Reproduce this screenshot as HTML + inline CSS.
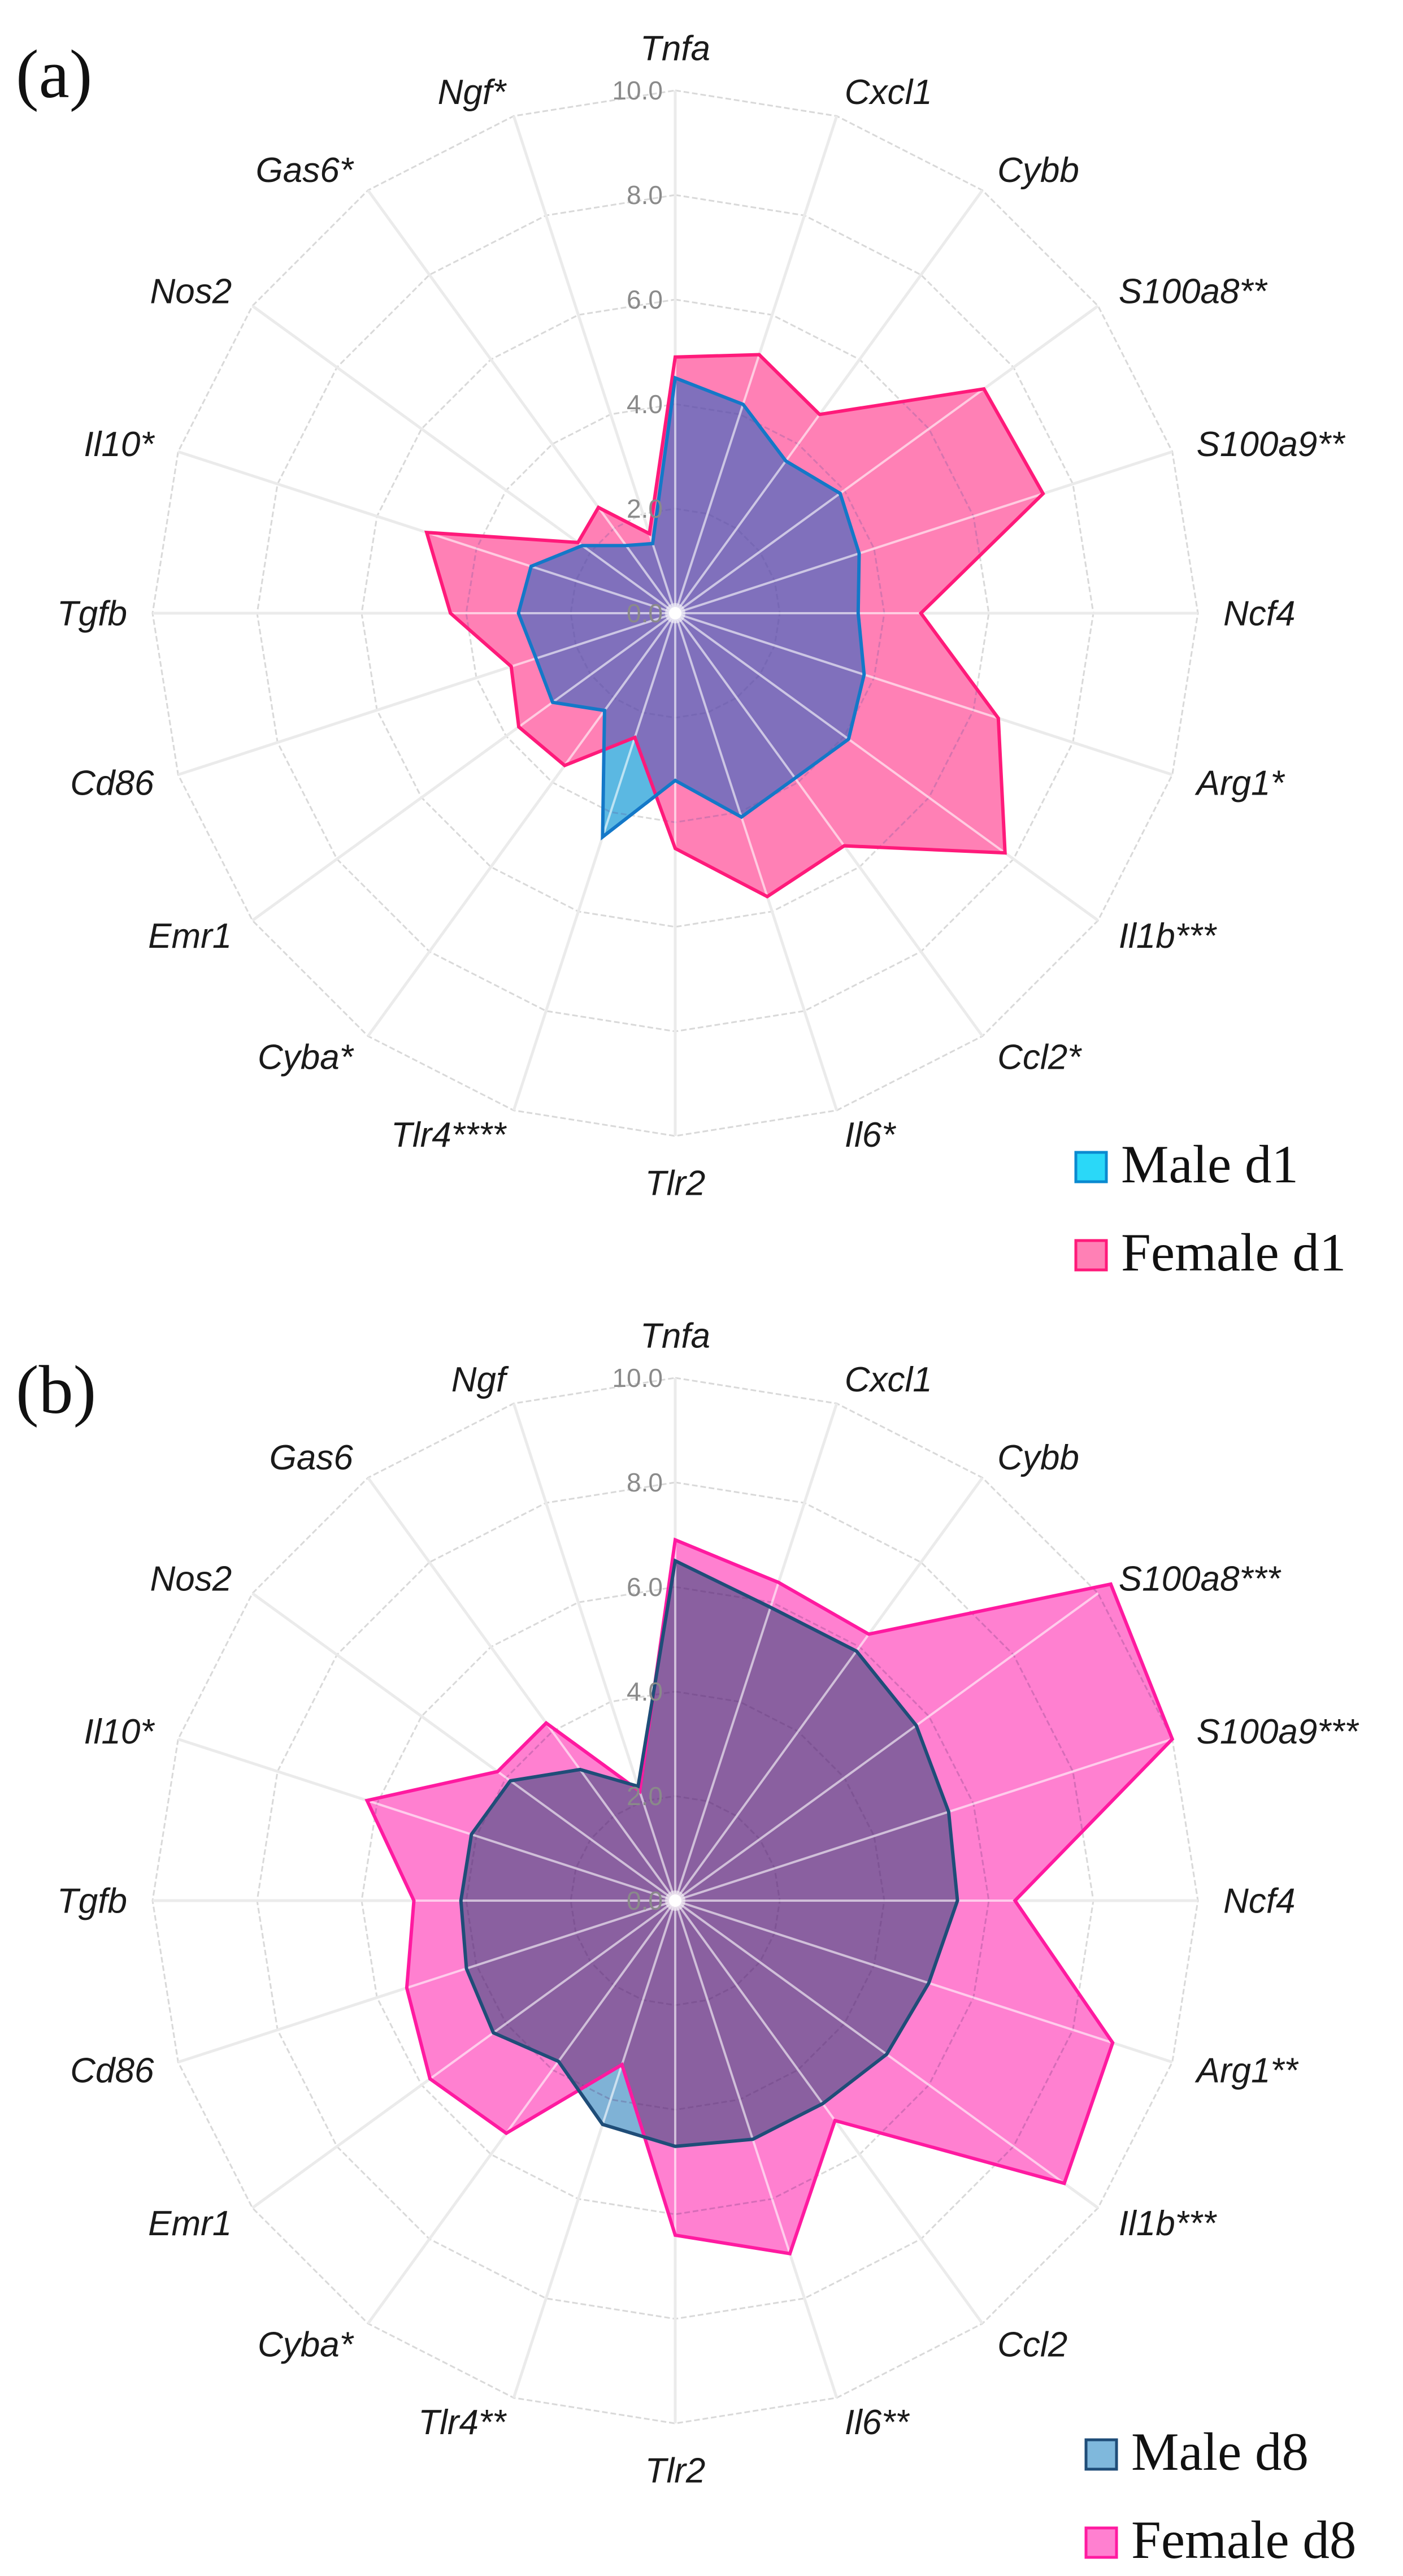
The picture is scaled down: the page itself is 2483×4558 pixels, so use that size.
<!DOCTYPE html>
<html><head><meta charset="utf-8">
<style>
html,body{margin:0;padding:0;background:#fff;}
svg{display:block;}
.lbl{font-family:"Liberation Sans",sans-serif;font-style:italic;font-size:62px;fill:#1a1a1a;}
.tick{font-family:"Liberation Sans",sans-serif;font-size:46px;fill:#8a8a8a;}
.leg{font-family:"Liberation Serif",serif;font-size:95px;fill:#111;}
.pan{font-family:"Liberation Serif",serif;font-size:122px;fill:#111;}
</style></head>
<body>
<svg id="s" width="2483" height="4558" viewBox="0 0 2483 4558" xmlns="http://www.w3.org/2000/svg">
<rect width="2483" height="4558" fill="#fff"/>
<text class="pan" x="28" y="172">(a)</text>
<text class="pan" x="28" y="2500">(b)</text>

<g id="A" transform="translate(1195,1085)"></g>
<g id="B" transform="translate(1195,3363)"></g>

<g transform="translate(1195,1085)">
<text class="lbl" x="0" y="-1000" dy=".35em" text-anchor="middle">Tnfa</text>
<text class="lbl" transform="rotate(18) translate(0,-970) rotate(-18)" dy=".35em" text-anchor="start">Cxcl1</text>
<text class="lbl" transform="rotate(36) translate(0,-970) rotate(-36)" dy=".35em" text-anchor="start">Cybb</text>
<text class="lbl" transform="rotate(54) translate(0,-970) rotate(-54)" dy=".35em" text-anchor="start">S100a8**</text>
<text class="lbl" transform="rotate(72) translate(0,-970) rotate(-72)" dy=".35em" text-anchor="start">S100a9**</text>
<text class="lbl" transform="rotate(90) translate(0,-970) rotate(-90)" dy=".35em" text-anchor="start">Ncf4</text>
<text class="lbl" transform="rotate(108) translate(0,-970) rotate(-108)" dy=".35em" text-anchor="start">Arg1*</text>
<text class="lbl" transform="rotate(126) translate(0,-970) rotate(-126)" dy=".35em" text-anchor="start">Il1b***</text>
<text class="lbl" transform="rotate(144) translate(0,-970) rotate(-144)" dy=".35em" text-anchor="start">Ccl2*</text>
<text class="lbl" transform="rotate(162) translate(0,-970) rotate(-162)" dy=".35em" text-anchor="start">Il6*</text>
<text class="lbl" x="0" y="1008" dy=".35em" text-anchor="middle">Tlr2</text>
<text class="lbl" transform="rotate(198) translate(0,-970) rotate(-198)" dy=".35em" text-anchor="end">Tlr4****</text>
<text class="lbl" transform="rotate(216) translate(0,-970) rotate(-216)" dy=".35em" text-anchor="end">Cyba*</text>
<text class="lbl" transform="rotate(234) translate(0,-970) rotate(-234)" dy=".35em" text-anchor="end">Emr1</text>
<text class="lbl" transform="rotate(252) translate(0,-970) rotate(-252)" dy=".35em" text-anchor="end">Cd86</text>
<text class="lbl" transform="rotate(270) translate(0,-970) rotate(-270)" dy=".35em" text-anchor="end">Tgfb</text>
<text class="lbl" transform="rotate(288) translate(0,-970) rotate(-288)" dy=".35em" text-anchor="end">Il10*</text>
<text class="lbl" transform="rotate(306) translate(0,-970) rotate(-306)" dy=".35em" text-anchor="end">Nos2</text>
<text class="lbl" transform="rotate(324) translate(0,-970) rotate(-324)" dy=".35em" text-anchor="end">Gas6*</text>
<text class="lbl" transform="rotate(342) translate(0,-970) rotate(-342)" dy=".35em" text-anchor="end">Ngf*</text>
<text class="tick" x="-22" y="0" dy=".35em" text-anchor="end">0.0</text>
<text class="tick" x="-22" y="-185" dy=".35em" text-anchor="end">2.0</text>
<text class="tick" x="-22" y="-370" dy=".35em" text-anchor="end">4.0</text>
<text class="tick" x="-22" y="-555" dy=".35em" text-anchor="end">6.0</text>
<text class="tick" x="-22" y="-740" dy=".35em" text-anchor="end">8.0</text>
<text class="tick" x="-22" y="-925" dy=".35em" text-anchor="end">10.0</text>
</g>

<g transform="translate(1195,3363)">
<text class="lbl" x="0" y="-1000" dy=".35em" text-anchor="middle">Tnfa</text>
<text class="lbl" transform="rotate(18) translate(0,-970) rotate(-18)" dy=".35em" text-anchor="start">Cxcl1</text>
<text class="lbl" transform="rotate(36) translate(0,-970) rotate(-36)" dy=".35em" text-anchor="start">Cybb</text>
<text class="lbl" transform="rotate(54) translate(0,-970) rotate(-54)" dy=".35em" text-anchor="start">S100a8***</text>
<text class="lbl" transform="rotate(72) translate(0,-970) rotate(-72)" dy=".35em" text-anchor="start">S100a9***</text>
<text class="lbl" transform="rotate(90) translate(0,-970) rotate(-90)" dy=".35em" text-anchor="start">Ncf4</text>
<text class="lbl" transform="rotate(108) translate(0,-970) rotate(-108)" dy=".35em" text-anchor="start">Arg1**</text>
<text class="lbl" transform="rotate(126) translate(0,-970) rotate(-126)" dy=".35em" text-anchor="start">Il1b***</text>
<text class="lbl" transform="rotate(144) translate(0,-970) rotate(-144)" dy=".35em" text-anchor="start">Ccl2</text>
<text class="lbl" transform="rotate(162) translate(0,-970) rotate(-162)" dy=".35em" text-anchor="start">Il6**</text>
<text class="lbl" x="0" y="1008" dy=".35em" text-anchor="middle">Tlr2</text>
<text class="lbl" transform="rotate(198) translate(0,-970) rotate(-198)" dy=".35em" text-anchor="end">Tlr4**</text>
<text class="lbl" transform="rotate(216) translate(0,-970) rotate(-216)" dy=".35em" text-anchor="end">Cyba*</text>
<text class="lbl" transform="rotate(234) translate(0,-970) rotate(-234)" dy=".35em" text-anchor="end">Emr1</text>
<text class="lbl" transform="rotate(252) translate(0,-970) rotate(-252)" dy=".35em" text-anchor="end">Cd86</text>
<text class="lbl" transform="rotate(270) translate(0,-970) rotate(-270)" dy=".35em" text-anchor="end">Tgfb</text>
<text class="lbl" transform="rotate(288) translate(0,-970) rotate(-288)" dy=".35em" text-anchor="end">Il10*</text>
<text class="lbl" transform="rotate(306) translate(0,-970) rotate(-306)" dy=".35em" text-anchor="end">Nos2</text>
<text class="lbl" transform="rotate(324) translate(0,-970) rotate(-324)" dy=".35em" text-anchor="end">Gas6</text>
<text class="lbl" transform="rotate(342) translate(0,-970) rotate(-342)" dy=".35em" text-anchor="end">Ngf</text>
<text class="tick" x="-22" y="0" dy=".35em" text-anchor="end">0.0</text>
<text class="tick" x="-22" y="-185" dy=".35em" text-anchor="end">2.0</text>
<text class="tick" x="-22" y="-370" dy=".35em" text-anchor="end">4.0</text>
<text class="tick" x="-22" y="-555" dy=".35em" text-anchor="end">6.0</text>
<text class="tick" x="-22" y="-740" dy=".35em" text-anchor="end">8.0</text>
<text class="tick" x="-22" y="-925" dy=".35em" text-anchor="end">10.0</text>
</g>

<rect x="1904" y="2039" width="54" height="52" fill="#2ad8f8" stroke="#0a8ad0" stroke-width="5"/>
<text class="leg" x="1984" y="2092">Male d1</text>
<rect x="1904" y="2195" width="54" height="52" fill="#ff80b5" stroke="#ff1a7a" stroke-width="5"/>
<text class="leg" x="1984" y="2248">Female d1</text>
<rect x="1922" y="4317" width="54" height="52" fill="#7fb8dc" stroke="#1f4d78" stroke-width="5"/>
<text class="leg" x="2002" y="4370">Male d8</text>
<rect x="1922" y="4473" width="54" height="52" fill="#ff80d0" stroke="#ff1aa0" stroke-width="5"/>
<text class="leg" x="2002" y="4526">Female d8</text>
</svg>
<script>
(function(){
var NS="http://www.w3.org/2000/svg",R=925;
function el(t,a,p){var e=document.createElementNS(NS,t);for(var k in a)e.setAttribute(k,a[k]);p.appendChild(e);return e;}
function pts(vals){var s=[];for(var i=0;i<20;i++){var a=i*Math.PI/10,r=vals[i]/10*R;s.push((r*Math.sin(a)).toFixed(1)+","+(-r*Math.cos(a)).toFixed(1));}return s.join(" ");}
function ring(v){var a=[];for(var i=0;i<20;i++)a.push(v);return pts(a);}
function chart(id,F,M,c){
 var g=document.getElementById(id);
 var defs=el("defs",{},g);
 var cp=el("clipPath",{id:id+"c"},defs);el("polygon",{points:pts(F)},cp);
 for(var v=2;v<=10;v+=2)el("polygon",{points:ring(v),fill:"none",stroke:"#d9d9d9","stroke-width":3,"stroke-dasharray":"10 5"},g);
 for(var i=0;i<20;i++){var a=i*Math.PI/10;el("line",{x1:0,y1:0,x2:(R*Math.sin(a)).toFixed(1),y2:(-R*Math.cos(a)).toFixed(1),stroke:"#ebebeb","stroke-width":5},g);}
 el("polygon",{points:pts(F),fill:c.ff},g);
 el("polygon",{points:pts(M),fill:c.mf},g);
 el("polygon",{points:pts(M),fill:c.of,"clip-path":"url(#"+id+"c)"},g);
 var cp2=el("clipPath",{id:id+"u"},defs);el("polygon",{points:pts(F)},cp2);el("polygon",{points:pts(M)},cp2);
 var wg=el("g",{"clip-path":"url(#"+id+"u)"},g);
 for(var v=2;v<=10;v+=2)el("polygon",{points:ring(v),fill:"none",stroke:c.rg,"stroke-opacity":0.25,"stroke-width":3,"stroke-dasharray":"10 5"},wg);
 for(var i=0;i<20;i++){var a=i*Math.PI/10;el("line",{x1:0,y1:0,x2:(R*Math.sin(a)).toFixed(1),y2:(-R*Math.cos(a)).toFixed(1),stroke:"#ffffff","stroke-opacity":0.6,"stroke-width":4},wg);}
 el("polygon",{points:pts(F),fill:"none",stroke:c.fs,"stroke-width":6},g);
 el("polygon",{points:pts(M),fill:"none",stroke:c.ms,"stroke-width":6},g);
 el("circle",{r:18,fill:"#ffffff","fill-opacity":0.5},g);
 el("circle",{r:11,fill:"#ffffff"},g);
}
var Fa=[4.9,5.2,4.7,7.3,7.4,4.7,6.5,7.8,5.5,5.7,4.5,2.5,3.6,3.7,3.3,4.3,5.0,2.3,2.5,1.6];
var Ma=[4.5,4.2,3.6,3.9,3.7,3.5,3.8,4.1,3.9,4.1,3.2,4.5,2.3,2.9,2.8,3.0,2.9,2.2,1.6,1.4];
var Fb=[6.9,6.4,6.3,10.3,10.0,6.5,8.8,9.2,5.2,7.1,6.4,3.3,5.5,5.8,5.4,5.0,6.2,4.2,4.2,2.2];
var Mb=[6.5,5.9,5.9,5.7,5.5,5.4,5.1,5.0,4.8,4.8,4.7,4.5,3.8,4.3,4.2,4.1,4.1,3.9,3.1,2.3];
chart("A",Fa,Ma,{ff:"#ff80b5",fs:"#ff1a7a",mf:"#5bb8e2",of:"#8070bc",ms:"#1478c8",rg:"#5a4f9a"});
chart("B",Fb,Mb,{ff:"#ff80d0",fs:"#ff1aa0",mf:"#7fb2d6",of:"#8a60a0",ms:"#1f4d78",rg:"#5a3070"});
})();
</script>
</body></html>
